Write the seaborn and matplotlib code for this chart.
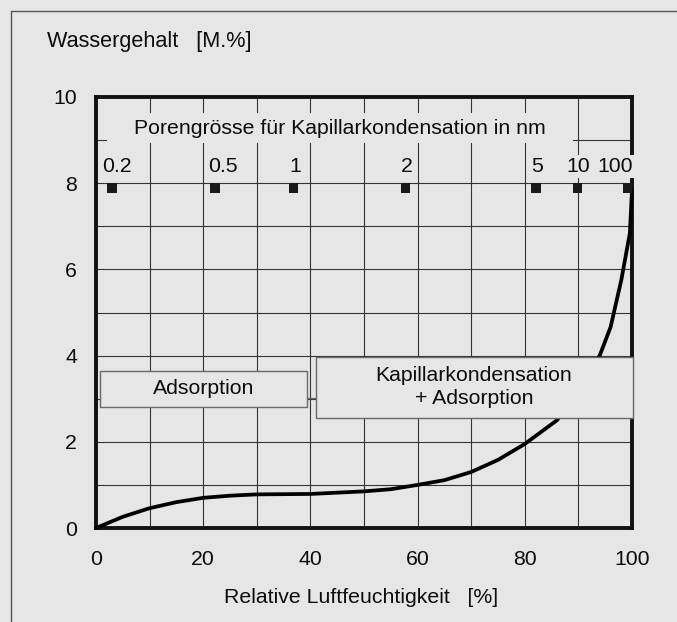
import matplotlib
matplotlib.use("Agg")
import matplotlib.pyplot as plt
from matplotlib.patches import Rectangle
from matplotlib.lines import Line2D
import numpy as np
import pandas as pd
import seaborn as sns

# ---- data ----
rh = [0, 5, 10, 15, 20, 25, 30, 40, 45, 50, 55, 60, 65, 70, 75, 80, 86, 90, 94, 96, 98, 99.6, 100]
water = [0, 0.26, 0.46, 0.60, 0.70, 0.75, 0.78, 0.79, 0.82, 0.85, 0.90, 1.00, 1.11, 1.30, 1.58, 1.95, 2.50, 3.15, 4.01, 4.66, 5.75, 6.84, 7.84]

pore_labels = ["0.2", "0.5", "1", "2", "5", "10", "100"]
pore_rh = [3.0, 22.2, 36.9, 57.8, 82.1, 89.9, 99.1]
pore_level = 7.89

x_ticks = [0, 20, 40, 60, 80, 100]
y_ticks = [0, 2, 4, 6, 8, 10]

title_text = "Porengrösse für Kapillarkondensation in nm"
ylabel_text = "Wassergehalt   [M.%]"
xlabel_text = "Relative Luftfeuchtigkeit   [%]"
box1_text = "Adsorption"
box2_text = "Kapillarkondensation\n+ Adsorption"

# ---- style ----
BG = "#e6e6e6"
TXT = "#0d0d0d"
sns.set_theme(style="white")
plt.rcParams["font.family"] = ["Liberation Sans", "DejaVu Sans"]
FS = 15.3

fig = plt.figure(figsize=(6.77, 6.22), dpi=100, facecolor=BG)
ax = fig.add_axes([96 / 677, 1 - 528 / 622, (632 - 96) / 677, (528 - 97) / 622])
ax.set_facecolor(BG)

df = pd.DataFrame({"rh": rh, "water": water})
sns.lineplot(data=df, x="rh", y="water", ax=ax, color="black", linewidth=2.7,
             sort=False, zorder=3, clip_on=False)

pdf = pd.DataFrame({"rh": pore_rh, "lvl": [pore_level] * len(pore_rh)})
sns.scatterplot(data=pdf, x="rh", y="lvl", ax=ax, marker="s", s=44, color="#1a1a1a",
                edgecolor="none", zorder=4, clip_on=False)

ax.set_xlim(0, 100)
ax.set_ylim(0, 10)
ax.set_xticks(x_ticks)
ax.set_yticks(y_ticks)
ax.set_xticks(np.arange(10, 100, 10), minor=True)
ax.set_yticks(np.arange(1, 10, 2), minor=True)
ax.grid(True, which="both", color="#333333", linewidth=0.8)
ax.set_axisbelow(True)
ax.tick_params(axis="both", which="both", length=0, labelsize=FS, colors=TXT)
ax.tick_params(axis="y", pad=13.5)
ax.tick_params(axis="x", pad=16)
for s in ax.spines.values():
    s.set_linewidth(2.8)
    s.set_color("#111111")
    s.set_zorder(2.6)

ax.set_xlabel(xlabel_text, fontsize=FS, color=TXT)
ax.xaxis.label.set_va("baseline")
ax.xaxis.set_label_coords(0.495, -0.174)
ax.set_ylabel("")
fig.text(47 / 677, 1 - 47 / 622, ylabel_text, fontsize=FS + 0.3, color=TXT,
         ha="left", va="baseline")

# cover for pore-size title
ax.add_patch(Rectangle((2.05, 8.93), 86.95, 0.70, facecolor=BG, edgecolor="none", zorder=2.2))
ax.text(45.5, 9.28, title_text, fontsize=FS, ha="center", va="center",
        color=TXT, zorder=5)

# pore size labels
offs = [3.6, 5.4, 1.4, 0.7, 0.7, 0.4, -8.6]
for lab, xv, dx in zip(pore_labels, pore_rh, offs):
    ax.annotate(lab, (xv, pore_level), xytext=(dx, 11.5), textcoords="offset points",
                ha="center", va="baseline", fontsize=FS, color=TXT, zorder=6,
                annotation_clip=False,
                bbox=dict(boxstyle="square,pad=0.08", facecolor=BG, edgecolor="none"))

# annotation boxes
ax.add_patch(Rectangle((0.75, 2.81), 38.65, 0.83, facecolor=BG, edgecolor="#6a6a6a",
                       linewidth=1.0, zorder=4))
ax.text(20.0, 3.24, box1_text, fontsize=FS, ha="center", va="center", color=TXT, zorder=5)
ax.add_patch(Rectangle((41.0, 2.55), 59.2, 1.42, facecolor=BG, edgecolor="#6a6a6a",
                       linewidth=1.0, zorder=4, clip_on=False))
ax.text(70.5, 3.28, box2_text, fontsize=FS, ha="center", va="center", color=TXT,
        zorder=5, linespacing=1.25)
ax.plot([39.4, 41.0], [3.02, 3.02], color="#6a6a6a", linewidth=1.0, zorder=4)

# outer frame
fig.add_artist(Line2D([11 / 677, 1], [1 - 11 / 622, 1 - 11 / 622], color="#555555", linewidth=1.0))
fig.add_artist(Line2D([11 / 677, 11 / 677], [0, 1 - 11 / 622], color="#555555", linewidth=1.0))

fig.savefig("out.png", dpi=100, facecolor=BG)
